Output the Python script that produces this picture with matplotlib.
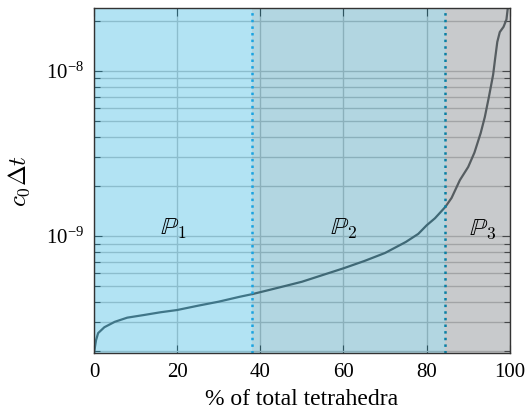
import numpy as np
import matplotlib
matplotlib.use("Agg")
import matplotlib.pyplot as plt
from matplotlib.ticker import FixedLocator, LogLocator, NullFormatter

# percent of tetrahedra (sorted) vs. local time step c0*dt
pct = [0, 0.2, 0.5, 1, 2.5, 5, 8, 12, 16, 20, 25, 30, 35, 38, 42, 46, 50,
       55, 60, 65, 70, 75, 78, 80, 82, 84.5, 86, 88, 90, 91.5, 93, 94, 95,
       96, 96.5, 97, 97.6, 98.5, 99.2, 99.6, 100]
dt = [1.95e-10, 2.1e-10, 2.34e-10, 2.58e-10, 2.8e-10, 3.02e-10, 3.2e-10,
      3.32e-10, 3.45e-10, 3.56e-10, 3.78e-10, 4.0e-10, 4.28e-10, 4.44e-10,
      4.7e-10, 4.98e-10, 5.28e-10, 5.8e-10, 6.37e-10, 7.05e-10, 7.89e-10,
      9.2e-10, 1.03e-9, 1.16e-9, 1.28e-9, 1.5e-9, 1.7e-9, 2.18e-9, 2.62e-9,
      3.2e-9, 4.2e-9, 5.26e-9, 7.0e-9, 9.5e-9, 1.2e-8, 1.5e-8, 1.72e-8,
      1.85e-8, 2.05e-8, 2.5e-8, 3.0e-8]

# polynomial degree regions
bounds = [0, 38, 84.5, 100]
region_labels = [r'$\mathbb{P}_1$', r'$\mathbb{P}_2$', r'$\mathbb{P}_3$']
region_colors = ['#02a5da', '#007a9e', '#4b5258']
line_colors = ['#1ba3e0', '#0a7fa3']
label_x = [19, 60, 93.5]
yticks = [1e-9, 1e-8]

plt.rcParams['font.family'] = ['Liberation Serif', 'DejaVu Serif']
plt.rcParams['mathtext.fontset'] = 'cm'

fig = plt.figure(figsize=(5.25, 4.15), dpi=100)
ax = fig.add_axes([0.179, 0.149, 0.792, 0.832])

ax.plot(pct, dt, color='#5c6265', lw=1.6, zorder=2)

for i in range(3):
    ax.axvspan(bounds[i], bounds[i + 1], color=region_colors[i], alpha=0.3,
               lw=0, zorder=3)
    ax.text(label_x[i], 1.1e-9, region_labels[i], fontsize=18,
            ha='center', va='center', zorder=5)

ax.axvline(bounds[1], color=line_colors[0], ls=':', lw=1.8, zorder=4)
ax.axvline(bounds[2], color=line_colors[1], ls=':', lw=1.8, zorder=4)

ax.set_yscale('log')
ax.set_xlim(0, 100)
ax.set_ylim(1.95e-10, 2.41e-8)
ax.set_xticks([0, 20, 40, 60, 80, 100])
ax.yaxis.set_major_locator(FixedLocator(yticks))
ax.yaxis.set_minor_locator(LogLocator(base=10, subs=np.arange(2, 10), numticks=20))
ax.yaxis.set_minor_formatter(NullFormatter())

ax.grid(True, which='major', color='#c8c8c8', lw=1.0, zorder=1)
ax.grid(True, which='minor', axis='y', color='#c8c8c8', lw=1.0, zorder=1)
ax.set_axisbelow(True)

ax.tick_params(which='both', direction='in', top=True, right=True,
               color='#444444', labelsize=15, pad=7)
ax.tick_params(which='major', length=6, width=0.8)
ax.tick_params(which='minor', length=4, width=0.8)
for s in ax.spines.values():
    s.set_color('#333333')
    s.set_linewidth(1.0)
    s.set_zorder(6)

ax.set_xlabel('% of total tetrahedra', fontsize=17, labelpad=5)
ax.set_ylabel(r'$c_0\Delta t$', fontsize=18, labelpad=10)

fig.savefig('out.png', dpi=100)
